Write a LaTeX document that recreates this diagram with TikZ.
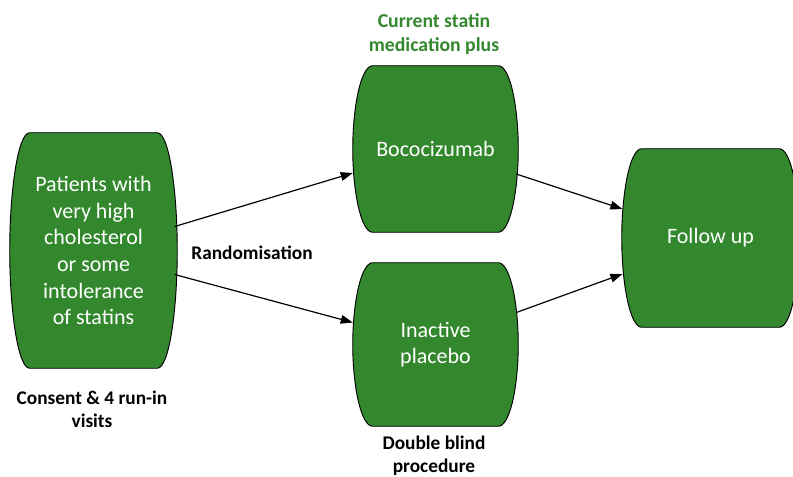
\documentclass[tikz,border=0pt]{standalone}
\usepackage{fontspec}
\setmainfont{Carlito}
\usetikzlibrary{arrows.meta,backgrounds,calc}
\definecolor{stgreen}{HTML}{33882E}
\tikzset{
  boxnode/.style={rectangle, draw=none, inner sep=0pt, align=center, text=white,
    font=\fontsize{16.5}{20}\selectfont},
  lbl/.style={align=center, font=\bfseries\fontsize{14.5}{17}\selectfont, text=black},
  glbl/.style={align=center, font=\bfseries\fontsize{14.8}{18}\selectfont, text=stgreen},
  conn/.style={draw=black, line width=0.9pt, -{Triangle[length=9pt,width=6.5pt]}},
}
\newcommand\barrelshape[1]{%
  \path[fill=stgreen, draw=black, line width=0.7pt]
    let \p1=(#1.north west), \p2=(#1.south east),
        \n1={\y1-\y2}, \n2={(\y1+\y2)/2} in
    (\x1+15pt,\y1) -- (\x2-15pt,\y1)
      .. controls (\x2-6pt,\y1) and (\x2,\y1-0.25*\n1) .. (\x2,\n2)
      .. controls (\x2,\y2+0.25*\n1) and (\x2-6pt,\y2) .. (\x2-15pt,\y2)
      -- (\x1+15pt,\y2)
      .. controls (\x1+6pt,\y2) and (\x1,\y2+0.25*\n1) .. (\x1,\n2)
      .. controls (\x1,\y1-0.25*\n1) and (\x1+6pt,\y1) .. (\x1+15pt,\y1) -- cycle;}
\begin{document}
\begin{tikzpicture}[x=0.75pt,y=-0.75pt]
\useasboundingbox (0,0) rectangle (793,476);
\clip (0,0) rectangle (793,476);
\node[boxnode, minimum width=125.25pt, minimum height=176.25pt] (L) at (93.5,250.5)
  {Patients with\\very high\\cholesterol\\or some\\intolerance\\of statins};
\node[boxnode, minimum width=123.75pt, minimum height=124.5pt] (T) at (435.5,149) {Bococizumab};
\node[boxnode, minimum width=123.75pt, minimum height=122.25pt] (B) at (435.5,344.5) {Inactive\\placebo};
\node[boxnode, minimum width=132.75pt, minimum height=133.5pt] (F) at (710.5,238) {Follow up};
\begin{scope}[on background layer]
  \barrelshape{L}
  \barrelshape{T}
  \barrelshape{B}
  \barrelshape{F}
\end{scope}
\node[glbl] (cur) at (434,34) {Current statin\\medication plus};
\node[lbl] (rand) at (252,253) {Randomisation};
\node[lbl] (cons) at (92,409) {Consent \& 4 run-in\\visits};
\node[lbl] (dbl) at (434,456) {Double blind\\procedure};
\draw[conn] ([xshift=-2pt,yshift=18pt]L.east) -- ([yshift=-18pt]T.west);
\draw[conn] ([xshift=-2pt,yshift=-18pt]L.east) -- ([yshift=16.5pt]B.west);
\draw[conn] ([xshift=-1.5pt,yshift=-18.75pt]T.east) -- ([xshift=0.5pt,yshift=21.75pt]F.west);
\draw[conn] ([xshift=-1.5pt,yshift=24pt]B.east) -- ([xshift=0.5pt,yshift=-27pt]F.west);
\end{tikzpicture}
\end{document}
